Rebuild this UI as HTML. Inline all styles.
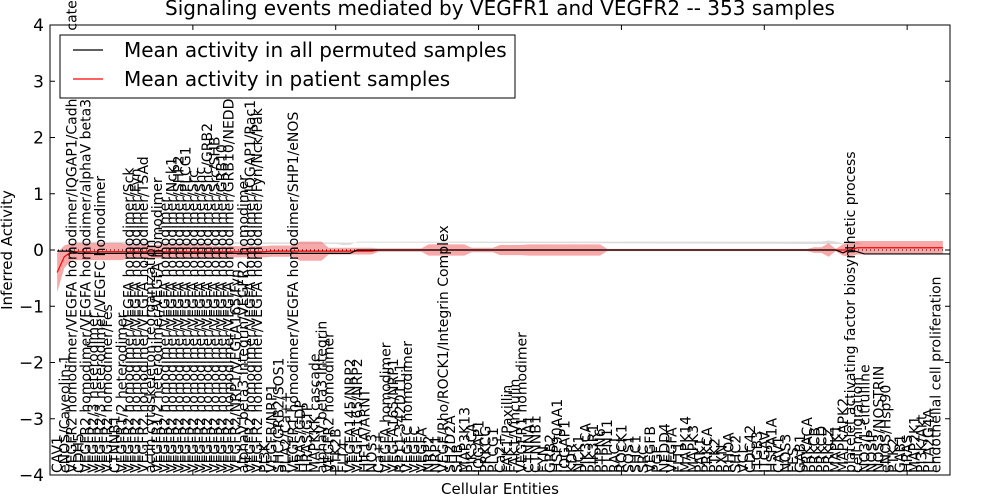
<!DOCTYPE html>
<html><head><meta charset="utf-8"><style>
body{margin:0;background:#fff;}
svg{display:block;font-family:"DejaVu Sans","Liberation Sans",sans-serif;}
</style></head><body>
<svg id="chart" width="1000" height="500" viewBox="0 0 1000 500">
<defs><clipPath id="plotclip"><rect x="50" y="25" width="900" height="450"/></clipPath></defs>
<rect x="0" y="0" width="1000" height="500" fill="#fff"/>
<g id="bands" clip-path="url(#plotclip)"></g>
<g id="lines" clip-path="url(#plotclip)"></g>
<g id="labels"></g>
<g id="axes"></g>
<text x="500" y="15" text-anchor="middle" font-size="20">Signaling events mediated by VEGFR1 and VEGFR2 -- 353 samples</text>
<text x="500" y="494" text-anchor="middle" font-size="15">Cellular Entities</text>
<text transform="translate(12,250) rotate(-90)" text-anchor="middle" font-size="15">Inferred Activity</text>
<g>
<rect x="60" y="35" width="455" height="63" fill="#fff" stroke="#000" stroke-width="1"/>
<line x1="73" y1="50" x2="103" y2="50" stroke="#000" stroke-width="1.2"/>
<text x="124" y="57" font-size="20">Mean activity in all permuted samples</text>
<line x1="73" y1="79" x2="103" y2="79" stroke="#f00" stroke-width="1.2"/>
<text x="124" y="86" font-size="20">Mean activity in patient samples</text>
</g>
</svg>
<script>
const categories = ["CAV1","eNOS/Caveolin-1","VEGFR2 homodimer/VEGFA homodimer/IQGAP1/Cadherin/beta catenin","CDH5","VEGFR2 homodimer/VEGFA homodimer/alphaV beta3","VEGFR2/3 heterodimer","VEGFR2/3 heterodimer/VEGFC homodimer","VEGFR2 homodimer/Fes","CTNNB1","VEGFR1/2 heterodimer","VEGFR2 homodimer/VEGFA homodimer/Sck","VEGFR2 homodimer/VEGFA homodimer/Fyn","VEGFR2 homodimer/VEGFA homodimer/TSAd","actin cytoskeleton reorganization","VEGFR1/2 heterodimer/VEGFA homodimer","VEGFR2 homodimer/VEGFA homodimer","VEGFR2 homodimer/VEGFA homodimer/Nck1","VEGFR2 homodimer/VEGFA homodimer/SHP2","VEGFR2 homodimer/VEGFA homodimer/PLCG1","VEGFR2 homodimer/VEGFA homodimer/Src","VEGFR2 homodimer/VEGFA homodimer/Shc","VEGFR2 homodimer/VEGFA homodimer/Shc/GRB2","VEGFR2 homodimer/VEGFA homodimer/Src/SHB","VEGFR2 homodimer/VEGFA homodimer/GRB10","VEGFR2 homodimer/VEGFA homodimer/GRB10/NEDD4","VEGFR2/NRP1/VEGFA165/Fyn","alphaV beta3 Integrin/VEGFR2 homodimer","VEGFR2 homodimer/VEGFA homodimer/IQGAP1/Rac1","VEGFR2 homodimer/VEGFA homodimer/Fyn/Nck/Pak","PI3K","VEGFB/NRP1","SHC/GRB2/SOS1","PLA2/Ca++","VEGFR1 homodimer/VEGFA homodimer/SHP1/eNOS","HRAS/GDP","HRAS/GTP","MAPKKK cascade","alphaV beta3 Integrin","VEGFR2 homodimer","PTK2B","FLT4","VEGFA145/NRP2","VEGFA165/NRP2","HIF1A/ARNT","NOS3","Ca++","VEGFA homodimer","VEGFA165/NRP1","RP11-342D11.1","VEGFC homodimer","VEGFC","VEGFA","NRP2","NRP1","VEGF/Rho/ROCK1/Integrin Complex","SH2D2A","SHB","MAP3K13","PIK3CA","IQGAP1","PRKCG","PLCG1","Ca2+","FAK1/Paxillin","FAK1/Vinculin","VEGFR1 homodimer","CTNNA1","CTNNB1","FYN","GRB2","HSP90AA1","IQGAP1","KDR","NCK1","PIK3CA","PIK3R1","PTPN6","PTPN11","RAC1","ROCK1","SOS1","SHC1","SRC","VEGFB","PGF","NEDD4","VEGFA","FLT1","MAPK14","MAPK3","PAK1","PRKCA","PTK2","PXN","RHOA","SHC2","VCL","CDC42","ITGB3","ITGAV","HSPA1A","CAV1","NOS3","FES","GAB1","PRKACA","PRKCB","PRKCD","PRKCZ","MAPK1","MAPKAPK2","platelet activating factor biosynthetic process","cell migration","NO3/L-citrulline","NOSIP","NOS3/NOSTRIN","eNOS/Hsp90","PTK2","GAB1","HRAS","MAP2K1","PI3K/Akt","PLA2G4A","endothelial cell proliferation"];
const redMean = [-0.4,-0.12,-0.03,-0.03,-0.03,-0.03,-0.03,-0.03,-0.03,-0.03,-0.03,-0.03,-0.03,-0.03,-0.03,-0.03,-0.03,-0.03,-0.03,-0.03,-0.03,-0.03,-0.03,-0.03,-0.03,-0.03,-0.03,-0.03,-0.03,-0.03,-0.02,-0.02,-0.02,-0.02,-0.02,-0.02,-0.02,-0.02,-0.02,-0.02,-0.02,-0.02,-0.02,-0.02,-0.02,0,0,0,0,0,0,0,0,0,0,0,0,0,0,0,0,0,0,0,0,0,0,0,0,0,0,0,0,0,0,0,0,0,0,0,0,0,0,0,0,0,0,0,0,0,0,0,0,0,0,0,0,0,0,0,0,0,0,0,0,0,0,0,0,0,0,0,0.04,0.04,0.04,0.04,0.04,0.04,0.04,0.04,0.04,0.04,0.04,0.04,0.04];
const redSpread = [0.35,0.2,0.15,0.15,0.15,0.15,0.15,0.15,0.15,0.15,0.12,0.12,0.12,0.12,0.12,0.12,0.12,0.12,0.12,0.12,0.12,0.12,0.1,0.1,0.1,0.1,0.1,0.1,0.1,0.1,0.1,0.1,0.1,0.1,0.17,0.17,0.17,0.17,0.06,0.06,0.06,0.06,0.06,0.06,0.06,0.03,0.03,0.03,0.03,0.03,0.03,0.03,0.1,0.1,0.1,0.1,0.1,0.1,0.04,0.04,0.04,0.04,0.09,0.09,0.09,0.09,0.1,0.1,0.1,0.1,0.1,0.1,0.1,0.1,0.1,0.1,0.1,0.02,0.02,0.02,0.02,0.02,0.02,0.02,0.02,0.02,0.02,0.02,0.02,0.02,0.02,0.02,0.02,0.02,0.02,0.02,0.02,0.02,0.02,0.02,0.02,0.02,0.02,0.02,0.02,0.02,0.05,0.05,0.12,0.02,0.1,0.12,0.12,0.12,0.12,0.12,0.12,0.12,0.12,0.12,0.12,0.12,0.12,0.12,0.12];
const blackMean = [-0.02,-0.02,-0.02,-0.06,-0.06,-0.06,-0.06,-0.06,-0.06,-0.06,-0.06,-0.06,-0.06,-0.06,-0.06,-0.06,-0.06,-0.06,-0.06,-0.06,-0.06,-0.06,-0.06,-0.06,-0.06,-0.06,-0.06,-0.06,-0.06,-0.06,-0.06,-0.06,-0.06,-0.06,-0.06,-0.06,-0.06,-0.06,-0.06,-0.06,-0.06,-0.06,0,0,0,0,0,0,0,0,0,0,0,0,0,0,0,0,0,0,0,0,0,0,0,0,0,0,0,0,0,0,0,0,0,0,0,0,0,0,0,0,0,0,0,0,0,0,0,0,0,0,0,0,0,0,0,0,0,0,0,0,0,0,0,0,0,0,0,0,-0.05,0,-0.03,-0.07,-0.07,-0.07,-0.07,-0.07,-0.07,-0.07,-0.07,-0.07,-0.07,-0.07,-0.07,-0.07,-0.07];
const blackSpread = [0.17,0.17,0.17,0.17,0.17,0.17,0.17,0.17,0.17,0.17,0.17,0.17,0.17,0.17,0.17,0.17,0.17,0.17,0.17,0.17,0.17,0.17,0.17,0.17,0.17,0.17,0.17,0.17,0.17,0.17,0.17,0.17,0.17,0.17,0.17,0.17,0.17,0.17,0.17,0.17,0.15,0.15,0.15,0.15,0.15,0.15,0.15,0.15,0.15,0.15,0.15,0.15,0.15,0.15,0.15,0.15,0.15,0.15,0.15,0.15,0.15,0.15,0.15,0.15,0.15,0.15,0.15,0.15,0.15,0.15,0.15,0.15,0.15,0.15,0.15,0.15,0.15,0.15,0.15,0.15,0.15,0.15,0.15,0.15,0.15,0.15,0.15,0.15,0.15,0.15,0.15,0.15,0.15,0.15,0.15,0.15,0.15,0.15,0.15,0.15,0.15,0.15,0.15,0.15,0.15,0.15,0.15,0.15,0.17,0.15,0.17,0.17,0.17,0.17,0.17,0.17,0.17,0.17,0.17,0.17,0.17,0.17,0.17,0.17,0.17];
const yTicks = [4,3,2,1,0,-1,-2,-3,-4];
const xTicks = [0,20,40,60,80,100,120];

const NS = "http://www.w3.org/2000/svg";
const L = 50, R = 950, T = 25, B = 475, XMAX = 126, YMIN = -4, YMAX = 4;
const xs = i => L + (i) * (R - L) / XMAX;
const ys = v => T + (YMAX - v) * (B - T) / (YMAX - YMIN);
function mk(tag, attrs, parent) { const e = document.createElementNS(NS, tag); for (const k in attrs) e.setAttribute(k, attrs[k]); parent.appendChild(e); return e; }

function band(mean, spread) {
  let up = [], dn = [];
  mean.forEach((m, i) => { up.push(xs(i + 1) + "," + ys(m + spread[i])); });
  for (let i = mean.length - 1; i >= 0; i--) dn.push(xs(i + 1) + "," + ys(mean[i] - spread[i]));
  return up.concat(dn).join(" ");
}
function line(mean) { return mean.map((m, i) => xs(i + 1) + "," + ys(m)).join(" "); }

const bands = document.getElementById("bands");
const gb = mk("polygon", {points: band(blackMean, blackSpread), fill: "#dcdcdc"}, bands);


const rb = mk("polygon", {points: band(redMean, redSpread), fill: "#f06060", "fill-opacity": "0.55"}, bands);



const lines = document.getElementById("lines");
const zl = mk("line", {x1: L, x2: R, y1: ys(0), y2: ys(0), stroke: "#000", "stroke-dasharray": "1,3", "stroke-width": "1"}, lines);


const rl = mk("polyline", {points: line(redMean), fill: "none", stroke: "#f00", "stroke-width": "1.2"}, lines);


const bl = mk("polyline", {points: line(blackMean), fill: "none", stroke: "#000", "stroke-width": "1.2"}, lines);



const labels = document.getElementById("labels");
categories.forEach((c, i) => {
  const x = xs(i + 1) + 5;
  const t = mk("text", {transform: "translate(" + x + ",473) rotate(-90)", "font-size": "14"}, labels);
  t.textContent = c;
  
  
});

const axes = document.getElementById("axes");
const frame = mk("rect", {x: L, y: T, width: R - L, height: B - T, fill: "none", stroke: "#000", "stroke-width": "1"}, axes);


yTicks.forEach(v => {
  const y = ys(v);
  const t1 = mk("line", {x1: L, x2: L + 5, y1: y, y2: y, stroke: "#000"}, axes);
  
  
  const t2 = mk("line", {x1: R - 5, x2: R, y1: y, y2: y, stroke: "#000"}, axes);
  
  
  const lb = mk("text", {x: L - 6, y: y + 6, "text-anchor": "end", "font-size": "17"}, axes);
  lb.textContent = (v < 0 ? "\u2212" + (-v) : String(v));
  
  
});
xTicks.forEach(v => {
  const x = xs(v);
  const t1 = mk("line", {x1: x, x2: x, y1: T, y2: T + 5, stroke: "#000"}, axes);
  
  
  const t2 = mk("line", {x1: x, x2: x, y1: B - 5, y2: B, stroke: "#000"}, axes);
  
  
});
</script>
</body></html>
